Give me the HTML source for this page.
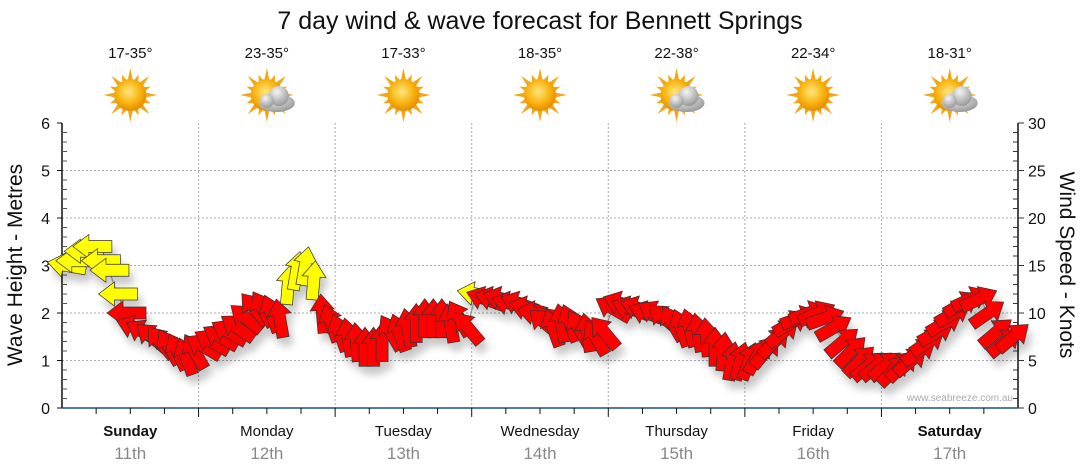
<!DOCTYPE html>
<html><head><meta charset="utf-8">
<style>
body{margin:0;background:#fff;width:1080px;height:475px;overflow:hidden;font-family:"Liberation Sans",sans-serif;}
svg{display:block}
</style></head>
<body>
<svg id="chart" width="1080" height="475" xmlns="http://www.w3.org/2000/svg">
<defs>
<filter id="sh" x="-50%" y="-50%" width="200%" height="200%"><feGaussianBlur in="SourceAlpha" stdDeviation="4"/><feOffset dx="4" dy="8"/><feComponentTransfer><feFuncA type="linear" slope="0.22"/></feComponentTransfer><feMerge><feMergeNode/><feMergeNode in="SourceGraphic"/></feMerge></filter>
<radialGradient id="sun" cx="45%" cy="40%" r="60%"><stop offset="0" stop-color="#ffe680"/><stop offset="0.6" stop-color="#f8b410"/><stop offset="1" stop-color="#e88a00"/></radialGradient>
<radialGradient id="cloud" cx="40%" cy="30%" r="70%"><stop offset="0" stop-color="#f4f4f4"/><stop offset="1" stop-color="#9a9a9a"/></radialGradient>
</defs>
<text x="540" y="29" text-anchor="middle" font-size="25" fill="#111">7 day wind &amp; wave forecast for Bennett Springs</text>
<g id="grid"></g>
<g id="axes"></g>
<g id="icons"></g>
<text transform="translate(22,265) rotate(-90)" text-anchor="middle" font-size="21" fill="#111">Wave Height - Metres</text>
<text transform="translate(1060,265) rotate(90)" text-anchor="middle" font-size="21" fill="#111">Wind Speed - Knots</text>
<text x="1013" y="401" text-anchor="end" font-size="10" fill="#aaa">www.seabreeze.com.au</text>
<g id="series"></g>
</svg>
<script>
const days=["Sunday","Monday","Tuesday","Wednesday","Thursday","Friday","Saturday"];
const dates=["11th","12th","13th","14th","15th","16th","17th"];
const boldDays=[true,false,false,false,false,false,true];
const temps=["17-35°","23-35°","17-33°","18-35°","22-38°","22-34°","18-31°"];
const cloudy=[false,true,false,false,true,false,true];
const leftTicks=[0,1,2,3,4,5,6];
const rightTicks=[0,5,10,15,20,25,30];
const windKnots=[
 15,15.5,16.5,17,15.5,14.5,12,10,8.5,8,7.5,7,6.5,6,5.5,6,
 6.5,7,7.5,8,8.5,9.5,10.5,10.5,10,9.5,13,14.5,15,13.5,10,9,
 8,7.5,7,6.5,6.5,7,8,8,8.5,9,9.5,9.5,9.5,9,9.5,8.5,
 12,11.5,11.5,11.5,11,11,10.5,10,9,8.5,9,9,8.5,8,7.5,8,
 10.5,11,10.5,10.5,10,10,9.5,9,8.5,8.5,8,7.5,6.5,6,5,5,
 5,5.5,6,7,8,9,9.5,10,10,9.5,8.5,7,6,5,4.5,4.5,
 4.5,4,4.5,5,6,7,8,9,10,11,11.5,11.5,10,8,7,7.5];
const windDir=[
 170,180,180,180,180,180,180,180,160,150,140,130,120,115,110,120,
 150,150,150,150,145,140,130,120,110,100,85,80,80,85,95,110,
 110,100,95,90,90,90,120,110,100,90,90,90,90,100,120,130,
 170,160,165,165,165,160,165,170,140,110,100,110,120,100,120,130,
 150,160,160,160,160,150,140,120,110,105,100,95,90,85,80,75,
 70,60,50,45,40,30,20,20,25,20,30,40,45,45,40,40,
 40,45,45,40,35,35,30,30,30,30,25,25,35,40,40,40];
const X0=62,X1=1018,Y0=408,Y1=123,H=168;
const xh=h=>X0+(X1-X0)*h/H;
const yL=v=>Y0-(Y0-Y1)*v/6;
const yK=v=>Y0-(Y0-Y1)*v/30;
const NS="http://www.w3.org/2000/svg";
function mk(t,a,p){const e=document.createElementNS(NS,t);for(const k in a)e.setAttribute(k,a[k]);(p||document.getElementById('chart')).appendChild(e);return e;}
const grid=document.getElementById('grid'),axes=document.getElementById('axes'),icons=document.getElementById('icons'),series=document.getElementById('series');
leftTicks.forEach(v=>{if(v>0&&v<6){const l=mk('line',{x1:X0,x2:X1,y1:yL(v),y2:yL(v),stroke:'#aaa','stroke-dasharray':'2,2'},grid);}
 const t=mk('text',{x:X0-12,y:yL(v)+6,'text-anchor':'end','font-size':16,fill:'#111'},axes);t.textContent=v;});
for(let d=1;d<7;d++){const l=mk('line',{x1:xh(d*24),x2:xh(d*24),y1:Y1,y2:Y0,stroke:'#aaa','stroke-dasharray':'2,2'},grid);}
mk('line',{x1:X0,x2:X0,y1:Y1,y2:Y0,stroke:'#111','stroke-width':1.5},axes);
mk('line',{x1:X1,x2:X1,y1:Y1,y2:Y0,stroke:'#111','stroke-width':1.5},axes);
mk('line',{x1:X0,x2:X1,y1:Y0,y2:Y0,stroke:'#1f4e79','stroke-width':1.5},axes);
for(let i=0;i<=30;i++){const v=i*0.2;if(i%5)mk('line',{x1:X0,x2:X0+5,y1:yL(v),y2:yL(v),stroke:'#555'},axes);else mk('line',{x1:X0-5,x2:X0,y1:yL(v),y2:yL(v),stroke:'#111'},axes);}
for(let k=0;k<=30;k++){mk('line',{x1:X1-(k%5?5:0),x2:X1+(k%5?0:6),y1:yK(k),y2:yK(k),stroke:'#333'},axes);}
rightTicks.forEach(v=>{const t=mk('text',{x:X1+10,y:yK(v)+6,'font-size':16,fill:'#111'},axes);t.textContent=v;});
for(let h=6;h<H;h+=6){mk('line',{x1:xh(h),x2:xh(h),y1:Y0,y2:Y0+(h%24?6:9),stroke:'#111'},axes);}
days.forEach((d,i)=>{const cx=xh(i*24+12);
 const t=mk('text',{x:cx,y:436,'text-anchor':'middle','font-size':15,fill:'#111','font-weight':boldDays[i]?'bold':'normal'},axes);t.textContent=d;
 const t2=mk('text',{x:cx,y:459,'text-anchor':'middle','font-size':17,fill:'#888'},axes);t2.textContent=dates[i];
 const t3=mk('text',{x:cx,y:58,'text-anchor':'middle','font-size':15,fill:'#111'},icons);t3.textContent=temps[i];
 const g=mk('g',{transform:`translate(${cx},95)`},icons);
 for(let r=0;r<16;r++){const a=r*Math.PI/8,l=r%2?22:27;mk('polygon',{points:`${14*Math.cos(a-0.2)},${14*Math.sin(a-0.2)} ${l*Math.cos(a)},${l*Math.sin(a)} ${14*Math.cos(a+0.2)},${14*Math.sin(a+0.2)}`,fill:'#f0a818'},g);}
 mk('circle',{cx:0,cy:0,r:16,fill:'url(#sun)'},g);
 if(cloudy[i]){const c=mk('g',{transform:'translate(8,4)'},g);mk('ellipse',{cx:2,cy:4,rx:18,ry:9,fill:'url(#cloud)'},c);mk('circle',{cx:4,cy:-3,r:10,fill:'url(#cloud)'},c);mk('circle',{cx:-8,cy:2,r:7,fill:'url(#cloud)'},c);}
});
const step=H/windKnots.length;
const pts=windKnots.map((k,i)=>[xh((i+0.5)*step),yK(k)]);
const pl=mk('polyline',{points:pts.map(p=>p.join(',')).join(' '),fill:'none',stroke:'#999','stroke-width':1},series);

const arrowG=mk('g',{filter:'url(#sh)'},series);
windKnots.forEach((k,i)=>{const [x,y]=pts[i];
 const a=mk('polygon',{points:'-20,-6 3,-6 3,-12 19,0 3,12 3,6 -20,6',fill:k>=12?'#ffff00':'#ff0000',stroke:'#333','stroke-width':0.7,transform:`translate(${x},${y}) rotate(${-windDir[i]})`},arrowG);
 
 
});
</script>
</body></html>
